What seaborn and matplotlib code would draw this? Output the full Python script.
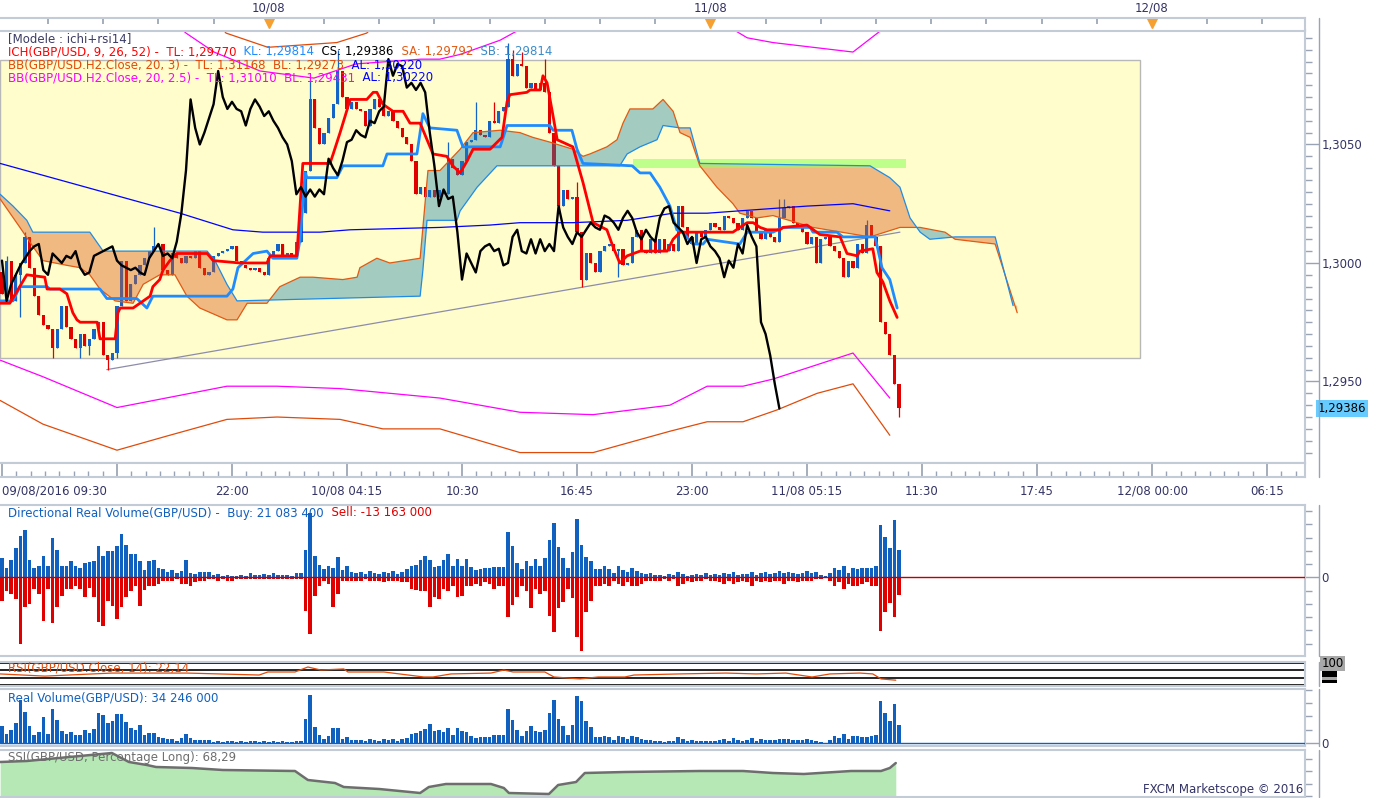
import numpy as np
import matplotlib
matplotlib.use("Agg")
import matplotlib.pyplot as plt
import matplotlib.transforms as mtransforms
from matplotlib.patches import Rectangle
from matplotlib.lines import Line2D
from matplotlib.ticker import FixedLocator, MultipleLocator, FuncFormatter
import seaborn as sns

sns.set_theme(style="white")
plt.rcParams['font.family'] = ['DejaVu Sans']

# =========================
# DATA  (GBP/USD, 15 min bars from 09/08/2016 09:30)
# =========================
first_open = 1.2996
closes = [
    1.2987, 1.3001, 1.2984, 1.2995, 1.3000, 1.3011, 1.2998, 1.2986, 1.2978, 1.2974,
    1.2972, 1.2964, 1.2972, 1.2982, 1.2973, 1.2968, 1.2964, 1.2970, 1.2965, 1.2968,
    1.2972, 1.2975, 1.2961, 1.2959, 1.2962, 1.2982, 1.3001, 1.2984, 1.2991, 1.2995,
    1.2999, 1.3002, 1.3005, 1.3007, 1.3008, 1.2997, 1.2995, 1.3004, 1.3002, 1.3000,
    1.3003, 1.3002, 1.3005, 1.2998, 1.2995, 1.2996, 1.3003, 1.3004, 1.3005, 1.3006,
    1.3007, 1.3001, 1.2999, 1.2998, 1.2997, 1.2998, 1.2996, 1.2995, 1.3002, 1.3005,
    1.3008, 1.3003, 1.3004, 1.3002, 1.3009, 1.3021, 1.3039, 1.3069, 1.3057, 1.3050,
    1.3055, 1.3061, 1.3067, 1.3081, 1.3070, 1.3065, 1.3068, 1.3065, 1.3064, 1.3058,
    1.3065, 1.3069, 1.3066, 1.3062, 1.3064, 1.3060, 1.3057, 1.3053, 1.3050, 1.3043,
    1.3029, 1.3032, 1.3028, 1.3031, 1.3028, 1.3031, 1.3029, 1.3044, 1.3040, 1.3037,
    1.3043, 1.3051, 1.3052, 1.3056, 1.3054, 1.3053, 1.3060, 1.3059, 1.3064, 1.3066,
    1.3086, 1.3079, 1.3084, 1.3083, 1.3074, 1.3076, 1.3073, 1.3076, 1.3072, 1.3055,
    1.3041, 1.3024, 1.3031, 1.3027, 1.3028, 1.3013, 1.2993, 1.3004, 1.3000, 1.2996,
    1.3005, 1.3007, 1.3008, 1.3005, 1.3006, 1.2999, 1.3000, 1.3011, 1.3014, 1.3005,
    1.3004, 1.3010, 1.3004, 1.3010, 1.3005, 1.3008, 1.3005, 1.3024, 1.3015, 1.3011,
    1.3008, 1.3013, 1.3011, 1.3014, 1.3017, 1.3015, 1.3014, 1.3020, 1.3019, 1.3017,
    1.3014, 1.3019, 1.3022, 1.3019, 1.3013, 1.3010, 1.3014, 1.3011, 1.3009, 1.3019,
    1.3023, 1.3024, 1.3017, 1.3015, 1.3013, 1.3008, 1.3011, 1.3000, 1.3010, 1.3011,
    1.3007, 1.3005, 1.3002, 1.2994, 1.3001, 1.2998, 1.3008, 1.3004, 1.3016, 1.3011,
    1.3007, 1.2975, 1.2970, 1.2961, 1.2949, 1.29386,
]
wick_high = {1: 1.3003, 5: 1.3013, 33: 1.3015, 67: 1.3077, 73: 1.3090, 97: 1.3051,
             103: 1.3068, 107: 1.3068, 110: 1.3093, 111: 1.3090, 113: 1.3089,
             118: 1.3086, 125: 1.3034, 169: 1.3027, 170: 1.3027, 188: 1.3018}
wick_low = {4: 1.2977, 11: 1.2960, 17: 1.2960, 19: 1.2961, 23: 1.2955, 25: 1.2960,
            121: 1.3021, 126: 1.2990, 134: 1.2994, 195: 1.2935}

# Ichimoku (9, 26, 52) - bar index / price
tenkan_t = [-0.4, 1.7, 5.4, 9.3, 9.8, 12.6, 14.1, 15.4, 16.3, 17, 20.7, 21.3, 24.6, 25.2, 25.7,
            28.5, 32.2, 32.8, 34.3, 35, 36.5, 38, 44.6, 45.9, 51.7, 57.6, 58.3, 64.1, 65.4, 71.3,
            72, 73.5, 75.7, 79.3, 80.7, 81.5, 82.8, 85, 87.2, 88.7, 90.9, 92.4, 93.7, 96.7, 98,
            99.6, 101.1, 102.4, 106.1, 108.7, 109.8, 110.4, 114.1, 114.8, 117, 117.6, 118.5, 119.8,
            120.7, 124.1, 126.3, 128.5, 131.5, 132.8, 134.3, 135.9, 138.7, 144.6, 145.9, 147.4,
            148.9, 158.9, 160.4, 162, 163.3, 164.8, 166.3, 169.1, 169.8, 175, 177.8, 182.2, 183.7,
            185.9, 186.5, 189.3, 190.2, 191.5, 193, 194.6]
tenkan_p = [1.2983, 1.2983, 1.2995, 1.2994, 1.2989, 1.2989, 1.2987, 1.2979, 1.2976, 1.2975,
            1.2975, 1.2968, 1.2968, 1.2979, 1.2981, 1.2981, 1.2986, 1.2990, 1.2993, 1.2997,
            1.3001, 1.3004, 1.3004, 1.3001, 1.3000, 1.3000, 1.3003, 1.3003, 1.3042, 1.3042,
            1.3046, 1.3055, 1.3069, 1.3069, 1.3072, 1.3072, 1.3067, 1.3064, 1.3064, 1.3059,
            1.3059, 1.3052, 1.3046, 1.3045, 1.3041, 1.3038, 1.3043, 1.3048, 1.3048, 1.3053,
            1.3068, 1.3071, 1.3072, 1.3073, 1.3073, 1.3079, 1.3076, 1.3062, 1.3052, 1.3049,
            1.3034, 1.3017, 1.3014, 1.3007, 1.3000, 1.3003, 1.3005, 1.3005, 1.3010, 1.3013,
            1.3013, 1.3013, 1.3015, 1.3017, 1.3017, 1.3015, 1.3014, 1.3014, 1.3015, 1.3016,
            1.3012, 1.3011, 1.3004, 1.3003, 1.3005, 1.3006, 1.2996, 1.2992, 1.2984, 1.2977]
kijun_t = [-0.4, 2.4, 3.9, 9.8, 10.4, 21.3, 22.8, 29.3, 31.5, 32.8, 48.9, 50.2, 51.3, 52.4, 54.6,
           57.6, 58.9, 64.1, 64.8, 65.9, 66.3, 72.8, 74.1, 82.8, 83.7, 90.2, 91.5, 93, 98.9, 100.2,
           108.3, 109.8, 119.1, 119.8, 123.9, 125, 126.3, 137, 138.7, 140.9, 143, 145.2, 146.7, 148,
           150.2, 152.4, 153.3, 160.4, 162, 167.6, 169.8, 175.7, 176.3, 181.5, 182.8, 189.8, 191.3,
           193, 194.6]
kijun_p = [1.2984, 1.2984, 1.2990, 1.2990, 1.2989, 1.2989, 1.2985, 1.2985, 1.2981, 1.2986,
           1.2986, 1.2989, 1.2998, 1.3000, 1.3004, 1.3005, 1.3002, 1.3002, 1.3010, 1.3038,
           1.3036, 1.3036, 1.3041, 1.3041, 1.3046, 1.3046, 1.3063, 1.3057, 1.3056, 1.3049,
           1.3049, 1.3058, 1.3058, 1.3056, 1.3056, 1.3048, 1.3042, 1.3041, 1.3038, 1.3038,
           1.3032, 1.3024, 1.3014, 1.3013, 1.3008, 1.3008, 1.3010, 1.3008, 1.3013, 1.3013,
           1.3015, 1.3015, 1.3013, 1.3013, 1.3011, 1.3011, 1.2998, 1.2993, 1.2981]
senkou_a_t = [-0.4, 3.9, 6.7, 8.9, 14.1, 17, 19.1, 21.3, 24.6, 28.5, 30.7, 34.3, 37.6, 40.2, 43,
              48.9, 51.1, 53.3, 57.6, 60.4, 64.8, 67.6, 74.1, 77.2, 77.8, 81.5, 84.3, 90.9, 91.5,
              92.6, 95.2, 99.6, 102.4, 108.3, 112.6, 115.4, 119.1, 124.1, 126.3, 127.8, 131.5,
              133.7, 135, 136.5, 141.5, 143.7, 145.9, 147.4, 149.6, 151.7, 155.4, 158.9, 160.4,
              164.1, 167.6, 176.3, 188.7, 195.2, 199.6, 205, 207.2, 215.9, 220.7]
senkou_a_p = [1.3027, 1.3015, 1.3007, 1.3001, 1.2999, 1.2998, 1.2995, 1.2989, 1.2984, 1.2983,
              1.2991, 1.2995, 1.2995, 1.2986, 1.2981, 1.2976, 1.2976, 1.2983, 1.2983, 1.2990,
              1.2994, 1.2994, 1.2993, 1.2994, 1.2998, 1.3002, 1.3000, 1.3002, 1.3015, 1.3039,
              1.3039, 1.3048, 1.3055, 1.3056, 1.3055, 1.3053, 1.3051, 1.3048, 1.3045, 1.3046,
              1.3049, 1.3052, 1.3059, 1.3065, 1.3065, 1.3069, 1.3064, 1.3055, 1.3053, 1.3041,
              1.3032, 1.3025, 1.3021, 1.3019, 1.3020, 1.3015, 1.3011, 1.3015, 1.3015, 1.3013,
              1.3010, 1.3008, 1.2979]
senkou_b_t = [-0.4, 2.4, 5.4, 6.7, 19.1, 22, 44.6, 46.3, 48.9, 51.1, 90.9, 91.5, 92.4, 98.9, 99.6,
              103.3, 107.6, 134.3, 135.9, 138.7, 142.4, 143.7, 147.4, 149.6, 151.7, 188.7, 193,
              195.2, 197.4, 199.6, 201.7, 207.2, 215.9, 219.8]
senkou_b_p = [1.3029, 1.3024, 1.3018, 1.3013, 1.3013, 1.3005, 1.3005, 1.3001, 1.2991, 1.2984,
              1.2986, 1.2997, 1.3018, 1.3018, 1.3022, 1.3032, 1.3041, 1.3041, 1.3046, 1.3049,
              1.3052, 1.3058, 1.3057, 1.3057, 1.3042, 1.3041, 1.3036, 1.3032, 1.3019, 1.3013,
              1.3010, 1.3011, 1.3011, 1.2982]

# Bollinger bands on H2 closes
bb_mid_t = [-0.4, 38.7, 50.2, 56.7, 69.1, 75.7, 95.2, 106.1, 112.6, 124.1, 135.9, 145.9, 153.3,
            160.4, 167.6, 175, 185, 193]
bb_mid_p = [1.3042, 1.3021, 1.3014, 1.3013, 1.3013, 1.3014, 1.3015, 1.3016, 1.3017, 1.3017,
            1.3018, 1.3021, 1.3021, 1.3022, 1.3023, 1.3024, 1.3025, 1.3022]
bb25_up_t = [-0.4, 32.2, 40, 46.1, 51.1, 56.1, 67.8, 77, 91.1, 95.2, 99.6, 108.3, 111.1, 117,
             151.7, 162, 167.6, 185, 193]
bb25_up_p = [1.3119, 1.3111, 1.3097, 1.3089, 1.3085, 1.3081, 1.3078, 1.3084, 1.3086, 1.3086,
             1.3088, 1.3094, 1.3097, 1.3103, 1.3107, 1.3095, 1.3093, 1.3089, 1.3101]
bb25_lo_t = [-0.4, 8.9, 25, 48.9, 59.8, 73.5, 95.2, 112.6, 128.5, 145.2, 153.3, 161.1, 167.6,
             185, 193]
bb25_lo_p = [1.2959, 1.2952, 1.2939, 1.2948, 1.2948, 1.2947, 1.2943, 1.2937, 1.2936, 1.2940,
             1.2948, 1.2948, 1.2951, 1.2962, 1.2943]
bb3_up_t = [-0.4, 43, 48.7, 57.8, 72.8, 79.3, 86.5, 130, 193]
bb3_up_p = [1.3128, 1.3111, 1.3097, 1.3091, 1.3093, 1.3097, 1.3111, 1.3119, 1.31168]
bb3_lo_t = [-0.4, 8.9, 25, 35.9, 48.9, 59.8, 73.5, 82.8, 95.2, 112.6, 128.5, 145.2, 153.3,
            161.1, 168.5, 177.2, 185, 193]
bb3_lo_p = [1.2942, 1.2932, 1.2921, 1.2927, 1.2934, 1.2935, 1.2934, 1.2930, 1.2930, 1.2920,
            1.2920, 1.2929, 1.2933, 1.2933, 1.2938, 1.2945, 1.2949, 1.29273]

trend_t = [22.8, 195.2]
trend_p = [1.2955, 1.3013]
zone_t = [-0.43, 247.4]          # yellow zone
zone_p = [1.2960, 1.30857]
band_t = [137.2, 196.5]          # green level
band_p = [1.30401, 1.30439]

# Directional real volume (millions)
buy_m = [
    14.4, 6.8, 12.9, 22.0, 31.2, 35.7, 12.9, 6.8, 8.4, 16.0,
    8.4, 29.6, 20.5, 8.4, 8.4, 12.2, 8.4, 6.8, 10.6, 11.4,
    12.2, 23.6, 16.0, 19.8, 19.8, 23.6, 32.7, 24.3, 17.5, 17.5,
    12.2, 5.3, 12.2, 12.9, 6.8, 6.1, 3.8, 5.3, 3.0, 4.6,
    12.9,
    3.0, 2.3, 3.8, 3.8, 3.8, 1.5, 2.3, 0.8, 1.5,
    0.8, 0.8, 1.5, 0.8, 3.0, 1.5, 1.5, 2.3, 1.5, 3.0,
    1.5, 1.5, 1.5, 0.8, 3.0,
    3.0, 20.5, 48.6, 16.0, 9.1, 6.1, 8.4, 6.8, 15.2, 5.3, 8.4, 3.8,
    3.0, 3.8, 2.3, 4.6, 3.0, 2.3, 3.8, 3.0, 4.6, 2.3, 3.8, 6.1,
    8.4, 9.1, 12.9, 16.0, 12.9, 7.6, 8.4, 12.9, 17.5, 8.4,
    13.7, 8.4, 13.7, 7.6, 5.3, 6.1, 6.8, 6.8, 7.6, 7.6, 7.6,
    34.2, 23.6, 10.6, 6.1, 12.2, 8.4, 13.7, 8.4, 14.4, 28.1,
    41.0, 22.8, 14.4, 6.8, 19.0, 44.1, 24.3, 15.2, 12.2, 6.1, 6.1, 8.4, 6.1,
    3.0, 8.4, 5.3, 3.8, 6.8, 4.6, 3.0, 2.3, 3.0, 1.5,
    1.5, 0.8, 2.3, 1.5, 3.8, 2.3, 0.8, 1.5, 2.3, 1.5,
    3.0, 1.5, 2.3, 1.5, 3.0, 2.3, 3.8, 1.5, 2.3, 2.3,
    3.8, 1.5, 3.0, 3.8, 2.3, 3.0, 4.6, 3.0, 3.8, 3.0,
    2.3, 3.0, 4.6, 3.0, 3.8, 1.5,
    0.8, 3.0, 6.8, 5.3, 8.4, 3.0, 6.8, 6.1, 6.8, 6.8, 6.8, 8.4,
    39.5, 30.4, 22.0, 43.3, 21.0834,
]
sell_m = [
    17.5, 9.9, 12.2, 16.0, 50.2, 22.0, 19.8, 8.4, 12.2, 32.7,
    8.4, 34.2, 22.0, 13.7, 8.4, 8.4, 6.1, 8.4, 14.4, 7.6,
    14.4, 33.4, 36.5, 17.5, 21.3, 31.2, 22.0, 14.4, 9.9, 6.8,
    21.3, 9.1, 6.8, 6.1, 4.6, 3.0, 3.0, 2.3, 1.5, 5.3,
    4.6,
    6.1, 3.8, 2.3, 2.3, 1.5, 0.8, 2.3, 0.8, 2.3,
    2.3, 0.8, 1.5, 0.8, 0.8, 1.5, 0.8, 0.8, 0.8, 0.8,
    0.8, 1.5, 0.8, 0.8, 0.8,
    0.8, 25.1, 42.6, 13.7, 6.1, 2.3, 5.3, 22.0, 12.2, 2.3, 3.0, 2.3,
    2.3, 2.3, 1.5, 2.3, 2.3, 2.3, 3.8, 2.3, 3.0, 2.3, 3.8, 3.8,
    8.4, 9.1, 10.6, 9.9, 22.0, 14.4, 16.0, 8.4, 9.9, 6.1,
    14.4, 13.7, 6.8, 6.1, 4.6, 6.1, 3.8, 5.3, 8.4, 6.8, 6.8,
    29.6, 20.5, 14.4, 6.8, 9.9, 22.8, 8.4, 12.2, 9.9, 28.9,
    41.0, 22.8, 18.2, 8.4, 15.2, 44.8, 55.5, 25.8, 17.5, 6.1, 6.1, 5.3, 6.1,
    3.0, 5.3, 6.1, 3.8, 6.1, 6.8, 4.6, 3.0, 2.3, 2.3,
    2.3, 0.8, 2.3, 1.5, 6.8, 5.3, 2.3, 3.8, 2.3, 2.3,
    1.5, 3.0, 2.3, 3.8, 5.3, 2.3, 5.3, 3.8, 2.3, 3.8,
    6.1, 2.3, 3.8, 2.3, 3.8, 2.3, 2.3, 4.6, 3.0, 2.3,
    3.8, 3.0, 2.3, 2.3, 0.8, 0.8,
    0.0, 3.0, 6.8, 3.8, 8.4, 5.3, 6.8, 6.8, 5.3, 3.8, 6.8, 6.8,
    40.3, 25.8, 19.0, 29.6, 13.163,
]

rsi_t = [-0.4, 9.3, 23.9, 40.2, 55.9, 57.8, 63.7, 66.5, 69.3, 74.3, 75.2, 83, 91.7, 93.7, 97.6,
         106.3, 109.1, 111.1, 118, 120, 125.7, 129.6, 135.4, 137.4, 147.2, 157.4, 163.9, 170.4,
         176.1, 180, 186.5, 189.3, 191.1, 194.3]
rsi_v = [51, 41, 55, 55, 46, 60, 60, 83, 69, 74, 60, 60, 37, 37, 51, 55, 69, 60, 60, 37, 28, 37,
         37, 46, 51, 55, 51, 55, 37, 51, 55, 51, 28, 22.14]
rsi_levels = [100, 70, 30, 0]

ssi_t = [-0.4, 5.4, 23.9, 27.6, 31.5, 33.5, 41.3, 48, 63.7, 66.5, 72.4, 74.3, 82, 90.9, 92.8,
         96.5, 106.3, 109.1, 110.2, 118.9, 120.9, 124.8, 126.7, 135.4, 151.7, 161.1, 167.6,
         174.3, 184.6, 191.1, 193, 194.3]
ssi_v = [68.7, 69.1, 72.3, 68.7, 67.5, 66.7, 66.3, 65.5, 65.1, 61.5, 60.3, 58.7, 57.9, 56.3,
         58.7, 59.9, 59.9, 58.3, 56.3, 55.9, 59.5, 60.7, 64.3, 64.7, 65.1, 65.1, 64.3, 63.9,
         65.1, 65.1, 66.3, 68.29]

time_ticks = [0, 25, 50, 75, 100, 125, 150, 175, 200, 225, 250, 275]
time_labels = ["09/08/2016 09:30", "", "22:00", "10/08 04:15", "10:30", "16:45", "23:00",
               "11/08 05:15", "11:30", "17:45", "12/08 00:00", "06:15"]
day_pos = [58, 154, 250]
day_labels = ["10/08", "11/08", "12/08"]

assert len(closes) == len(buy_m) == len(sell_m) == 196

# =========================
# STYLE
# =========================
W, H = 1377, 798
FS = 8.5
XMIN, XMAX = -0.43, 283.26
FRAME = '#C3CBD7'
TICK = '#9AA3B3'
LABEL = '#333366'
UP, DOWN = '#1464C8', '#E00000'
VBLUE = '#1060C0'


def box(x0, y0, x1, y1):
    return [x0 / W, 1 - y1 / H, (x1 - x0) / W, (y1 - y0) / H]


def style_panel(ax):
    for s in ('top', 'bottom', 'right'):
        ax.spines[s].set_visible(True)
        ax.spines[s].set_color(FRAME)
        ax.spines[s].set_linewidth(1.5)
    ax.spines['left'].set_visible(False)
    ax.set_xlim(XMIN, XMAX)
    ax.set_xticks([])
    ax.set_xlabel('')
    ax.set_ylabel('')
    ax.yaxis.tick_right()
    ax.tick_params(axis='y', which='both', right=True, left=False, direction='out',
                   color=TICK, labelsize=FS, labelcolor=LABEL, pad=2, width=1)
    ax.tick_params(axis='y', which='major', length=10)
    ax.tick_params(axis='y', which='minor', length=5)


def sline(ax, x, y, color, lw, z):
    sns.lineplot(x=x, y=y, ax=ax, color=color, linewidth=lw, estimator=None,
                 sort=False, zorder=z, legend=False)


fig = plt.figure(figsize=(W / 100, H / 100), dpi=100, facecolor='white')

# =========================
# MAIN PRICE PANEL
# =========================
ax = fig.add_axes(box(0, 30, 1305, 463))
ax.set_facecolor('white')
ax.set_ylim(1.29156, 1.30983)

ax.add_patch(Rectangle((zone_t[0], zone_p[0]), zone_t[1] - zone_t[0], zone_p[1] - zone_p[0],
                       facecolor='#FFFDCC', edgecolor='#B8B8B8', lw=1, zorder=0.5))
sline(ax, trend_t, trend_p, '#8C8CAA', 0.9, 1.5)

t = np.arange(len(closes))
c = np.array(closes)
o = np.r_[first_open, c[:-1]]
hi = np.maximum(o, c)
lo = np.minimum(o, c)
for k, v in wick_high.items():
    hi[k] = max(hi[k], v)
for k, v in wick_low.items():
    lo[k] = min(lo[k], v)
cols = np.where(c >= o, UP, DOWN)
ax.vlines(t, lo, hi, colors=cols, lw=0.9, zorder=2)
ax.bar(t, np.maximum(np.abs(c - o), 0.00004), bottom=np.minimum(o, c), width=0.7,
       color=cols, linewidth=0, zorder=2.1)

# cloud
grid = np.linspace(senkou_a_t[0], senkou_a_t[-1], 4000)
sa_g = np.interp(grid, senkou_a_t, senkou_a_p)
sb_g = np.interp(grid, senkou_b_t, senkou_b_p)
ax.fill_between(grid, sa_g, sb_g, where=sa_g >= sb_g, interpolate=True,
                color='#1982AF', alpha=0.4, lw=0, zorder=3)
ax.fill_between(grid, sa_g, sb_g, where=sa_g < sb_g, interpolate=True,
                color='#DC5514', alpha=0.4, lw=0, zorder=3)
ax.add_patch(Rectangle((band_t[0], band_p[0]), band_t[1] - band_t[0], band_p[1] - band_p[0],
                       facecolor='#93FF61', edgecolor='none', alpha=0.6, zorder=3.5))
sline(ax, senkou_a_t, senkou_a_p, '#E05A14', 0.9, 4)
sline(ax, senkou_b_t, senkou_b_p, '#1E8CE6', 0.9, 4)

# bollinger
sline(ax, bb_mid_t, bb_mid_p, '#0000FF', 0.9, 4)
sline(ax, bb25_up_t, bb25_up_p, '#FF00FF', 0.9, 4)
sline(ax, bb25_lo_t, bb25_lo_p, '#FF00FF', 0.9, 4)
sline(ax, bb3_up_t, bb3_up_p, '#E04B0A', 0.9, 4)
sline(ax, bb3_lo_t, bb3_lo_p, '#E04B0A', 0.9, 4)

# ichimoku lines
sline(ax, kijun_t, kijun_p, '#1E8CFF', 2.0, 5)
sline(ax, tenkan_t, tenkan_p, '#FF0000', 2.0, 5.2)
sline(ax, t[:-26], c[26:], 'black', 1.7, 5.5)   # chikou span = close shifted 26 bars back

style_panel(ax)
ax.set_ylim(1.29156, 1.30983)
ax.yaxis.set_major_locator(FixedLocator([1.2950, 1.3000, 1.3050]))
ax.yaxis.set_minor_locator(MultipleLocator(0.0005))
ax.yaxis.set_major_formatter(FuncFormatter(lambda v, p: f"{v:.4f}".replace('.', ',')))
ax.annotate(f"{closes[-1]:.5f}".replace('.', ','), xy=(1318 / 1305, closes[-1]),
            xycoords=('axes fraction', 'data'), fontsize=FS, color='black', va='center',
            ha='left', annotation_clip=False,
            bbox=dict(boxstyle='square,pad=0.15', fc='#66CCFF', ec='none'))

# top date strip
ax_t = fig.add_axes(box(0, 18, 1305, 31))
ax_t.set_xlim(XMIN, XMAX)
ax_t.set_ylim(0, 1)
ax_t.set_yticks([])
for s in ('top', 'bottom', 'right'):
    ax_t.spines[s].set_color(FRAME)
    ax_t.spines[s].set_linewidth(1.5)
ax_t.spines['left'].set_visible(False)
ax_t.xaxis.set_major_locator(FixedLocator(np.arange(10, 284, 12)))
ax_t.tick_params(axis='x', which='major', top=True, bottom=False, direction='in', length=4,
                 color=TICK, labeltop=False, labelbottom=False)
ax_t.plot(day_pos, [0.62] * 3, 'v', color='#F5A030', ms=7, clip_on=False)
tr = mtransforms.blended_transform_factory(ax_t.transData, ax_t.transAxes)
for p, lab in zip(day_pos, day_labels):
    ax_t.text(p, 1.8, lab, transform=tr, ha='center', va='center', fontsize=FS, color=LABEL)

# bottom time strip
ax_b = fig.add_axes(box(0, 463, 1305, 477))
ax_b.set_xlim(XMIN, XMAX)
ax_b.set_yticks([])
for s in ('top', 'bottom', 'right'):
    ax_b.spines[s].set_color(FRAME)
    ax_b.spines[s].set_linewidth(1.5)
ax_b.spines['left'].set_visible(False)
ax_b.set_xticks(time_ticks)
ax_b.set_xticklabels(time_labels)
ax_b.xaxis.set_minor_locator(MultipleLocator(25 / 8))
ax_b.tick_params(axis='x', which='major', bottom=True, direction='in', length=10, color=TICK,
                 labelsize=FS, labelcolor=LABEL, pad=5.5)
ax_b.tick_params(axis='x', which='minor', bottom=True, direction='in', length=4, color=TICK)
ax_b.get_xticklabels()[0].set_horizontalalignment('left')

# =========================
# DIRECTIONAL VOLUME
# =========================
ax_v = fig.add_axes(box(0, 505, 1305, 656))
sns.barplot(x=t, y=buy_m, native_scale=True, orient='x', color=VBLUE, saturation=1,
            width=0.75, errorbar=None, linewidth=0, ax=ax_v)
sns.barplot(x=t, y=-np.array(sell_m), native_scale=True, orient='x', color=DOWN, saturation=1,
            width=0.75, errorbar=None, linewidth=0, ax=ax_v)
ax_v.axhline(0, color='#C00000', lw=1, zorder=3)
style_panel(ax_v)
ax_v.set_ylim(-59.3, 54.7)
ax_v.set_yticks([0])
ax_v.set_yticklabels(['0'])
ax_v.yaxis.set_minor_locator(MultipleLocator(10))

# =========================
# RSI
# =========================
ax_r = fig.add_axes(box(0, 662, 1305, 686))
for lvl in rsi_levels:
    ax_r.axhline(lvl, color='black', lw=1.2)
sline(ax_r, rsi_t, rsi_v, '#E04B0A', 0.9, 3)
style_panel(ax_r)
ax_r.set_ylim(-4.6, 106)
ax_r.set_yticks([])
trr = mtransforms.blended_transform_factory(ax_r.transAxes, ax_r.transData)
ax_r.text(1.0125, 100, '100', transform=trr, fontsize=FS, color='black', va='center', ha='left',
          clip_on=False, bbox=dict(boxstyle='square,pad=0.1', fc='#A8A8A8', ec='none'))
fig.add_artist(Rectangle((1322 / W, 1 - 683 / H), 15 / W, 12 / H, transform=fig.transFigure,
                         fc='black', ec='none'))
fig.add_artist(Rectangle((1322 / W, 1 - 680 / H), 15 / W, 3 / H, transform=fig.transFigure,
                         fc='#A8A8A8', ec='none'))

# =========================
# REAL VOLUME (buy + sell)
# =========================
ax_rv = fig.add_axes(box(0, 689, 1305, 746))
real_m = np.array(buy_m) + np.array(sell_m)
sns.barplot(x=t, y=real_m, native_scale=True, orient='x', color=VBLUE, saturation=1,
            width=0.75, errorbar=None, linewidth=0, ax=ax_rv)
ax_rv.axhline(0, color=VBLUE, lw=1, zorder=3)
style_panel(ax_rv)
ax_rv.set_ylim(-5.7, 101.9)
ax_rv.set_yticks([0])
ax_rv.set_yticklabels(['0'])
ax_rv.yaxis.set_minor_locator(MultipleLocator(25))

# =========================
# SSI
# =========================
ax_s = fig.add_axes(box(0, 750, 1305, 797))
ax_s.fill_between(ssi_t, ssi_v, 54.7, color='#B5E8B5', lw=0, zorder=1)
sline(ax_s, ssi_t, ssi_v, '#6E6E6E', 1.8, 2)
style_panel(ax_s)
ax_s.set_ylim(54.7, 73.5)
ax_s.set_yticks([])
ax_s.yaxis.set_minor_locator(MultipleLocator(5))

# axis lines on the right
for y0, y1 in [(18, 477), (505, 656), (662, 686), (689, 746), (750, 797)]:
    fig.add_artist(Line2D([1319 / W, 1319 / W], [1 - y0 / H, 1 - y1 / H], color=TICK, lw=1))

# =========================
# TEXTS
# =========================
r = fig.canvas.get_renderer()


def seg_line(px, py, parts):
    x = px
    for s, col in parts:
        tx = fig.text(x / W, 1 - py / H, s, color=col, fontsize=FS, va='center', ha='left')
        x += tx.get_window_extent(renderer=r).width


seg_line(8, 39, [("[Modele : ichi+rsi14]", '#3C3C64')])
seg_line(8, 52, [("ICH(GBP/USD, 9, 26, 52) -  TL: 1,29770", '#FF0000'),
                 ("  KL: 1,29814", '#1E8CFF'), ("  CS: 1,29386", 'black'),
                 ("  SA: 1,29792", '#E05A14'), ("  SB: 1,29814", '#3C8CC8')])
seg_line(8, 65, [("BB(GBP/USD.H2.Close, 20, 3) -  TL: 1,31168  BL: 1,29273", '#E04B0A'),
                 ("  AL: 1,30220", '#0000FF')])
seg_line(8, 78, [("BB(GBP/USD.H2.Close, 20, 2.5) -  TL: 1,31010  BL: 1,29431", '#FF00FF'),
                 ("  AL: 1,30220", '#0000FF')])
seg_line(8, 513, [("Directional Real Volume(GBP/USD) -  Buy: 21 083 400", VBLUE),
                  ("  Sell: -13 163 000", DOWN)])
seg_line(8, 668, [("RSI(GBP/USD.Close, 14): 22,14", '#E04B0A')])
seg_line(8, 698, [("Real Volume(GBP/USD): 34 246 000", VBLUE)])
seg_line(8, 758, [("SSI(GBP/USD, Percentage Long): 68,29", '#6E6E6E')])
fig.text(1303 / W, 1 - 789 / H, "FXCM Marketscope \u00a9 2016", color=LABEL, fontsize=FS,
         ha='right', va='center')

fig.savefig("out.png", dpi=100)
